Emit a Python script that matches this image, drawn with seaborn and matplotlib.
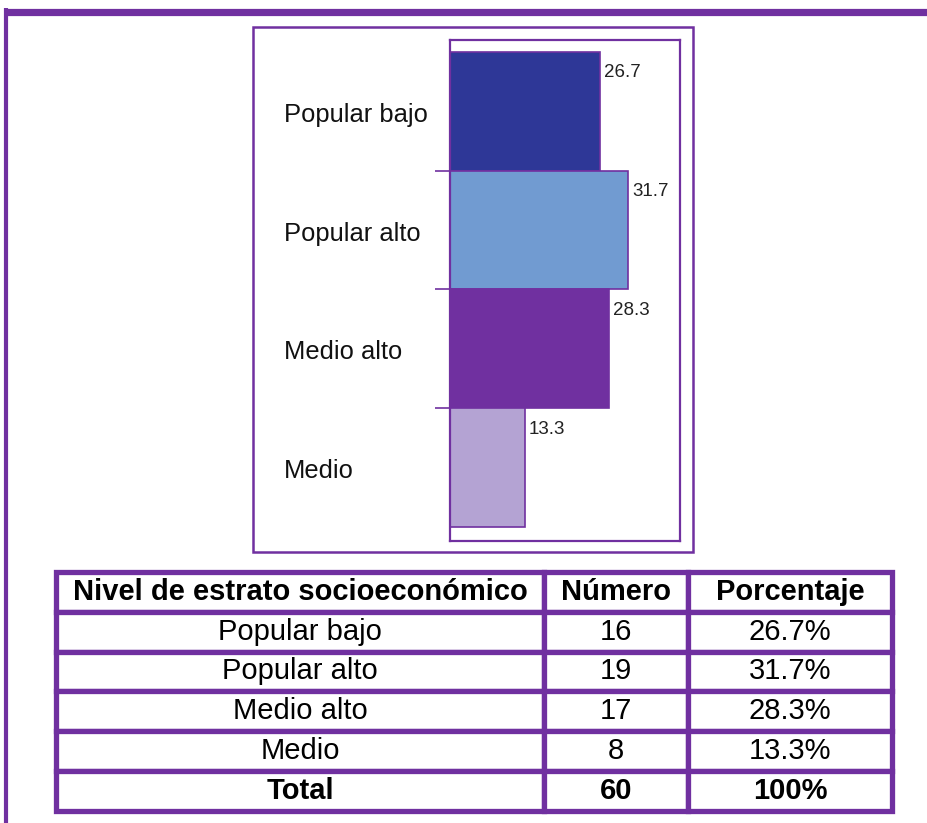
import matplotlib
matplotlib.use("Agg")
import matplotlib.pyplot as plt
from matplotlib.patches import Rectangle
from matplotlib.lines import Line2D
import matplotlib.transforms as mtransforms
import seaborn as sns
import pandas as pd

# ---------------- data ----------------
categories = ["Popular bajo", "Popular alto", "Medio alto", "Medio"]
percentages = [26.7, 31.7, 28.3, 13.3]
numbers = [16, 19, 17, 8]
pct_labels = ["26.7%", "31.7%", "28.3%", "13.3%"]
total_label = "Total"
total_number = "60"
total_pct = "100%"
table_header = ["Nivel de estrato socioeconómico", "Número", "Porcentaje"]
bar_colors = ["#2E3797", "#719BD1", "#7030A0", "#B4A3D3"]

PURPLE = "#7030A0"
W, H = 927, 823
DPI = 100

sns.set_theme(style="white")
plt.rcParams["font.family"] = ["Liberation Sans", "DejaVu Sans"]

fig = plt.figure(figsize=(W / DPI, H / DPI), dpi=DPI)
fig.patch.set_facecolor("white")


def fx(px):
    return px / W


def fy(py):
    return 1 - py / H


# ---------------- outer frame (top + left) ----------------
fig.add_artist(Line2D([fx(4), fx(927)], [fy(12), fy(12)], transform=fig.transFigure,
                      color=PURPLE, lw=5.2, solid_capstyle="butt"))
fig.add_artist(Line2D([fx(6), fx(6)], [fy(8), fy(823)], transform=fig.transFigure,
                      color=PURPLE, lw=3.0, solid_capstyle="butt"))

# ---------------- chart box ----------------
fig.add_artist(Rectangle((fx(253), fy(552)), fx(693) - fx(253), fy(27) - fy(552),
                         transform=fig.transFigure, fill=False, ec=PURPLE, lw=1.8))

# ---------------- bar chart ----------------
ax = fig.add_axes([fx(450), fy(541), fx(680) - fx(450), fy(40) - fy(541)])
df = pd.DataFrame({"cat": categories, "pct": percentages})
sns.barplot(data=df, x="pct", y="cat", hue="cat", palette=bar_colors, legend=False,
            orient="h", width=1.0, saturation=1, edgecolor=PURPLE, linewidth=1.2, ax=ax)

ax.set_xlim(0, 40.9)
ax.set_ylim(3.618, -0.601)
ax.set_xlabel("")
ax.set_ylabel("")
ax.set_xticks([])
ax.set_yticks([])
ax.set_yticks([0.5, 1.5, 2.5], minor=True)
ax.tick_params(axis="y", which="minor", left=True, length=11, width=1.2, color=PURPLE)
ax.tick_params(axis="y", which="major", left=False, labelleft=False)
for sp in ax.spines.values():
    sp.set_visible(True)
    sp.set_color(PURPLE)
    sp.set_linewidth(1.6)

trans = mtransforms.blended_transform_factory(ax.transAxes, ax.transData)
for i, cat in enumerate(categories):
    ax.text((284 - 450) / 230, i + 0.03, cat, transform=trans, ha="left", va="center",
            fontsize=18.4, color="#111111")

for i, v in enumerate(percentages):
    ax.annotate(f"{v:.1f}", xy=(v, i - 0.5), xytext=(3, -15), textcoords="offset points",
                ha="left", va="center", fontsize=13.5, color="#222222")

# ---------------- table ----------------
tax = fig.add_axes([fx(56), fy(810.5), fx(891.8) - fx(56), fy(572) - fy(810.5)])
tax.axis("off")
rows = [[c, str(n), p] for c, n, p in zip(categories, numbers, pct_labels)]
rows.append([total_label, total_number, total_pct])
cell_text = [table_header] + rows
col_w = [488.3, 143.7, 203.8]
tot = sum(col_w)
tbl = tax.table(cellText=cell_text, colWidths=[c / tot for c in col_w],
                cellLoc="center", bbox=[0, 0, 1, 1])
tbl.auto_set_font_size(False)
nrows = len(cell_text)
for (r, c), cell in tbl.get_celld().items():
    cell.set_edgecolor(PURPLE)
    cell.set_linewidth(3.8)
    cell.set_facecolor("white")
    txt = cell.get_text()
    txt.set_fontsize(21)
    txt.set_color("black")
    if r == 0 or r == nrows - 1:
        txt.set_fontweight("bold")

fig.savefig("out.png", dpi=DPI, facecolor="white")
